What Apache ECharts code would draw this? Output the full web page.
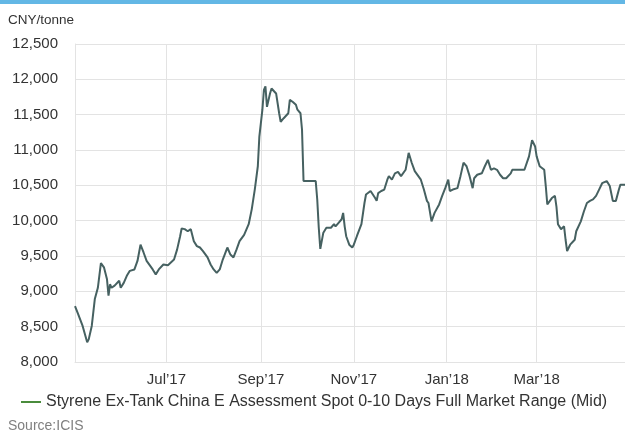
<!DOCTYPE html>
<html>
<head>
<meta charset="utf-8">
<script src="https://cdn.jsdelivr.net/npm/echarts@6/dist/echarts.min.js"></script>
<style>
html,body{margin:0;padding:0;background:#fff;}
#c{width:625px;height:435px;}
</style>
</head>
<body>
<div id="c"></div>
<script>
const dates = [
'2017-05-02','2017-05-04','2017-05-07','2017-05-08','2017-05-10','2017-05-11','2017-05-13','2017-05-15','2017-05-17','2017-05-18',
'2017-05-19','2017-05-21','2017-05-23','2017-05-24','2017-05-25','2017-05-26','2017-05-28','2017-05-31','2017-06-01','2017-06-03',
'2017-06-05','2017-06-07','2017-06-10','2017-06-12','2017-06-14','2017-06-16','2017-06-18','2017-06-22','2017-06-24','2017-06-26',
'2017-06-29','2017-07-02','2017-07-06','2017-07-08','2017-07-10','2017-07-11','2017-07-13','2017-07-15','2017-07-17','2017-07-19',
'2017-07-21','2017-07-23','2017-07-25','2017-07-28','2017-07-30','2017-08-01','2017-08-03','2017-08-05','2017-08-07','2017-08-10',
'2017-08-12','2017-08-14','2017-08-16','2017-08-18','2017-08-21','2017-08-24','2017-08-26','2017-08-28','2017-08-30','2017-08-31',
'2017-09-02','2017-09-03','2017-09-04','2017-09-05','2017-09-07','2017-09-08','2017-09-09','2017-09-11','2017-09-13','2017-09-14',
'2017-09-16','2017-09-19','2017-09-20','2017-09-22','2017-09-24','2017-09-25','2017-09-27','2017-09-28','2017-09-29','2017-10-07',
'2017-10-08','2017-10-09','2017-10-10','2017-10-12','2017-10-14','2017-10-15','2017-10-17','2017-10-19','2017-10-20','2017-10-22',
'2017-10-24','2017-10-25','2017-10-26','2017-10-27','2017-10-29','2017-10-31','2017-11-01','2017-11-03','2017-11-04','2017-11-06',
'2017-11-08','2017-11-09','2017-11-12','2017-11-13','2017-11-15','2017-11-16','2017-11-17','2017-11-19','2017-11-21','2017-11-23',
'2017-11-24','2017-11-26','2017-11-28','2017-11-30','2017-12-02','2017-12-05','2017-12-07','2017-12-09','2017-12-11','2017-12-12',
'2017-12-15','2017-12-17','2017-12-19','2017-12-20','2017-12-22','2017-12-24','2017-12-27','2017-12-29','2017-12-31','2018-01-02',
'2018-01-03','2018-01-05','2018-01-08','2018-01-09','2018-01-10','2018-01-12','2018-01-14','2018-01-16','2018-01-18','2018-01-19',
'2018-01-21','2018-01-24','2018-01-26','2018-01-28','2018-01-30','2018-02-01','2018-02-03','2018-02-05','2018-02-07','2018-02-09',
'2018-02-12','2018-02-13','2018-02-21','2018-02-24','2018-02-26','2018-02-28','2018-03-01','2018-03-03','2018-03-06','2018-03-07',
'2018-03-08','2018-03-09','2018-03-11','2018-03-13','2018-03-14','2018-03-15','2018-03-17','2018-03-19','2018-03-20','2018-03-21',
'2018-03-23','2018-03-24','2018-03-26','2018-03-27','2018-03-30','2018-04-01','2018-04-03','2018-04-05','2018-04-07','2018-04-09',
'2018-04-11','2018-04-13','2018-04-16','2018-04-18','2018-04-20','2018-04-22','2018-04-24','2018-04-25','2018-04-28'
];
const prices = [
8790,8680,8510,8490,8280,8320,8510,8890,9050,9050,
9400,9340,9170,8940,9100,9050,9080,9150,9050,9120,
9220,9290,9310,9430,9660,9550,9430,9310,9240,9310,
9380,9370,9450,9590,9780,9890,9880,9850,9880,9710,
9640,9620,9570,9480,9380,9310,9260,9310,9450,9620,
9520,9480,9590,9710,9800,9950,10160,10440,10770,11190,
11570,11850,11900,11610,11800,11870,11870,11800,11520,11400,
11450,11520,11710,11680,11640,11570,11520,11290,10560,10560,
10300,9900,9600,9830,9900,9920,9900,9950,9920,9970,
10020,10110,9920,9780,9660,9620,9660,9780,9800,9950,
10250,10370,10420,10440,10320,10280,10390,10420,10440,10580,
10630,10580,10670,10690,10630,10720,10960,10820,10700,10720,
10580,10440,10280,10250,9990,10110,10230,10350,10460,10580,
10420,10440,10460,10460,10630,10820,10770,10630,10460,10600,
10650,10670,10770,10860,10720,10740,10720,10650,10600,10600,
10670,10720,10720,10910,11140,11050,10910,10770,10720,10490,
10230,10230,10320,10350,10200,9950,9880,9920,9730,9570,
9660,9640,9730,9850,9990,10130,10250,10280,10300,10350,
10440,10530,10560,10490,10280,10280,10440,10510,10510
];
const monthTicks = ['2017-07-01','2017-09-01','2017-11-01','2018-01-01','2018-03-01'];
const monthLabels = ['Jul\u201917','Sep\u201917','Nov\u201917','Jan\u201918','Mar\u201918'];
const yTicks = [8000,8500,9000,9500,10000,10500,11000,11500,12000,12500];
const seriesName = 'Styrene Ex-Tank China E Assessment Spot 0-10 Days Full Market Range (Mid)';
const unitLabel = 'CNY/tonne';
const sourceLabel = 'Source:ICIS';

const FONT = '"Liberation Sans", Arial, Helvetica, sans-serif';
const toTime = d => Date.UTC(+d.slice(0, 4), +d.slice(5, 7) - 1, +d.slice(8, 10));
const tickTimes = monthTicks.map(toTime);
const labelMap = {};
tickTimes.forEach((t, i) => { labelMap[t] = monthLabels[i]; });

const chart = echarts.init(document.getElementById('c'), null, {renderer: 'canvas'});
chart.setOption({
  animation: false,
  backgroundColor: '#fff',
  textStyle: {fontFamily: FONT},
  graphic: [
    {type: 'rect', left: 0, top: 0, shape: {width: 625, height: 4}, style: {fill: '#63b7e5'}},
    {type: 'text', left: 8, top: 13, style: {text: unitLabel, fill: '#333', font: '13.5px ' + FONT}},
    {type: 'text', left: 8, top: 419, style: {text: sourceLabel, fill: '#808080', font: '14px ' + FONT}}
  ],
  grid: {left: 75, right: 0, top: 44, bottom: 73, containLabel: false},
  xAxis: {
    type: 'value',
    min: toTime('2017-05-02'),
    max: toTime('2018-04-28'),
    axisLine: {show: true, lineStyle: {color: '#e3e3e3'}},
    axisTick: {show: false, customValues: tickTimes},
    splitLine: {show: true, lineStyle: {color: '#e3e3e3', width: 1}},
    axisLabel: {
      customValues: tickTimes,
      formatter: v => labelMap[v] || '',
      color: '#333', fontSize: 15, fontFamily: FONT, margin: 10
    }
  },
  yAxis: {
    type: 'value',
    min: 8000, max: 12500, interval: 500,
    axisLine: {show: true, lineStyle: {color: '#e3e3e3'}},
    axisTick: {show: false},
    splitLine: {show: true, lineStyle: {color: '#e3e3e3', width: 1}},
    axisLabel: {
      color: '#333', fontSize: 15, fontFamily: FONT, margin: 17,
      formatter: v => yTicks.includes(v) ? v.toLocaleString('en-US') : ''
    }
  },
  legend: {
    left: 16, top: 389,
    icon: 'rect', itemWidth: 20, itemHeight: 2,
    textStyle: {color: '#333', fontSize: 16, fontFamily: FONT},
    data: [{name: seriesName, itemStyle: {color: '#4a8c3c'}}]
  },
  series: [{
    name: seriesName,
    type: 'line',
    showSymbol: false,
    symbol: 'none',
    lineStyle: {color: '#466161', width: 2},
    itemStyle: {color: '#466161'},
    data: dates.map((d, i) => [toTime(d), prices[i]])
  }]
});
</script>
</body>
</html>
